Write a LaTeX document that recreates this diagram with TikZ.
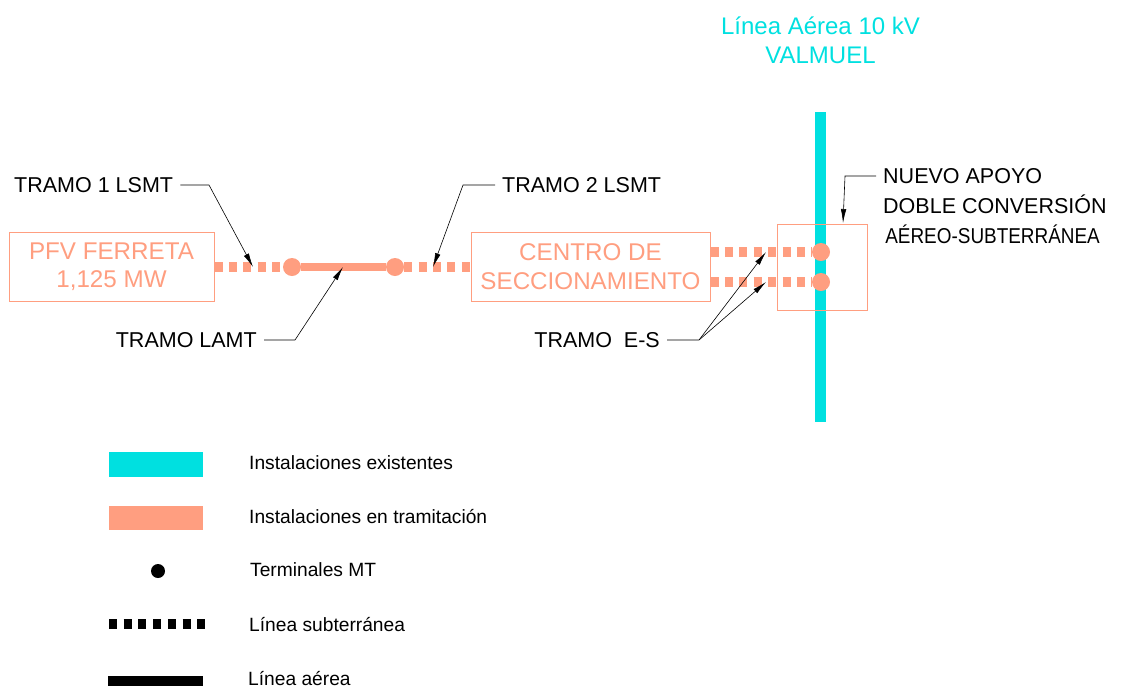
\documentclass[tikz,border=0pt]{standalone}
\usepackage{fontspec}
\setmainfont{Liberation Sans}
\usetikzlibrary{arrows.meta,positioning,backgrounds}
\definecolor{aqualine}{HTML}{00E0E0}
\definecolor{salmonline}{HTML}{FF9E80}
\tikzset{
  plantbox/.style={draw=salmonline,line width=1pt,inner sep=0pt,text=salmonline,align=center,
                   font=\fontsize{24.2}{28.5}\selectfont},
  terminal/.style={circle,fill=salmonline,minimum size=18pt,inner sep=0pt},
  buried/.style={salmonline,line width=10pt,dash pattern=on 8pt off 6.4pt},
  leader/.style={-{Latex[length=14pt,width=5.5pt]},line width=0.6pt},
  tramotext/.style={inner xsep=7pt,inner ysep=0pt,font=\fontsize{21.5}{25}\selectfont},
  legendtext/.style={anchor=west,inner sep=0pt,font=\fontsize{19.2}{22}\selectfont},
  legendbar/.style={minimum width=94pt,minimum height=25pt,inner sep=0pt}
}
\begin{document}
\begin{tikzpicture}[x=1pt,y=-1pt]
  \useasboundingbox (0,0) rectangle (1134,689);
  \coordinate (lineatop) at (820.5,112);
  \coordinate (lineabot) at (820.5,422);
  \node[text=aqualine,align=center,font=\fontsize{24}{29.5}\selectfont] (linea) at (820.5,40.5)
    {Línea Aérea 10 kV\\VALMUEL};
  % boxes
  \node[plantbox,minimum width=205pt,minimum height=69pt] (pfv) at (111.5,266.5) {PFV FERRETA\\1,125 MW};
  \node[plantbox,minimum width=239pt,minimum height=69pt] (centro) at (590.5,266.5) {CENTRO DE\\SECCIONAMIENTO};
  \node[draw=salmonline,line width=1pt,minimum width=90pt,minimum height=86pt,inner sep=0pt] (apoyo) at (822,267) {};
  % terminals
  \node[terminal] (ta) at (292,267) {};
  \node[terminal] (tb) at (395,267) {};
  \node[terminal] (tc) at (821,252) {};
  \node[terminal] (td) at (821,282) {};
  % lines
  \begin{scope}[on background layer]
    \draw[aqualine,line width=11pt] (lineatop) -- (lineabot);
    \draw[buried] (ta -| pfv.east) -- (ta);
    \draw[salmonline,line width=8pt] (ta) -- (tb);
    \draw[buried] (tb) -- (tb -| centro.west);
    \draw[buried] (tc -| centro.east) -- (tc);
    \draw[buried] (td -| centro.east) -- (td);
  \end{scope}
  % labels
  \node[tramotext,anchor=west] (tramoa) at (7,185) {TRAMO 1 LSMT};
  \node[tramotext,anchor=west] (tramob) at (495,185) {TRAMO 2 LSMT};
  \node[tramotext,anchor=east] (tramoc) at (264,340) {TRAMO LAMT};
  \node[tramotext,anchor=east] (tramod) at (667,340) {TRAMO\ \ E-S};
  \node[tramotext,anchor=west] (nuevoa) at (876,176) {NUEVO APOYO};
  \node[tramotext,anchor=west] (nuevob) at (876,204) {DOBLE CONVERSIÓN};
  \node[tramotext,anchor=west,xscale=0.88,transform shape] (nuevoc) at (879,234) {AÉREO-SUBTERRÁNEA};
  % leaders
  \coordinate (kneea) at (209,185);
  \coordinate (tipa) at (253,267);
  \coordinate (kneeb) at (463,185);
  \coordinate (tipb) at (433,267);
  \coordinate (kneec) at (295,340);
  \coordinate (tipc) at (343,267);
  \coordinate (kneed) at (699,340);
  \coordinate (tipd) at (766,252);
  \coordinate (tipe) at (766,282);
  \coordinate (kneef) at (845,176);
  \coordinate (tipf) at (843,223);
  \draw[leader] (tramoa.east) -- (kneea) -- (tipa);
  \draw[leader] (tramob.west) -- (kneeb) -- (tipb);
  \draw[leader] (tramoc.east) -- (kneec) -- (tipc);
  \draw[leader] (tramod.east) -- (kneed) -- (tipd);
  \draw[leader] (kneed) -- (tipe);
  \draw[leader] (nuevoa.west) -- (kneef) -- (tipf);
  % legend
  \node[legendbar,fill=aqualine] (legexist) at (156,464.5) {};
  \node[legendbar,fill=salmonline,minimum height=24pt] (legtram) at (156,518) {};
  \node[circle,fill=black,minimum size=14pt,inner sep=0pt] (legterm) at (158,571) {};
  \coordinate (legsuba) at (109,624);
  \coordinate (legsubb) at (205,624);
  \draw[line width=10pt,dash pattern=on 8pt off 6.7pt] (legsuba) -- (legsubb);
  \coordinate (legaera) at (108,681);
  \coordinate (legaerb) at (203,681);
  \draw[line width=10pt] (legaera) -- (legaerb);
  \node[legendtext] (txtexist) at (249,463) {Instalaciones existentes};
  \node[legendtext] (txttram) at (249,517) {Instalaciones en tramitación};
  \node[legendtext] (txtterm) at (250,570) {Terminales MT};
  \node[legendtext] (txtsub) at (249,625) {Línea subterránea};
  \node[legendtext] (txtaer) at (248,679) {Línea aérea};
\end{tikzpicture}
\end{document}
